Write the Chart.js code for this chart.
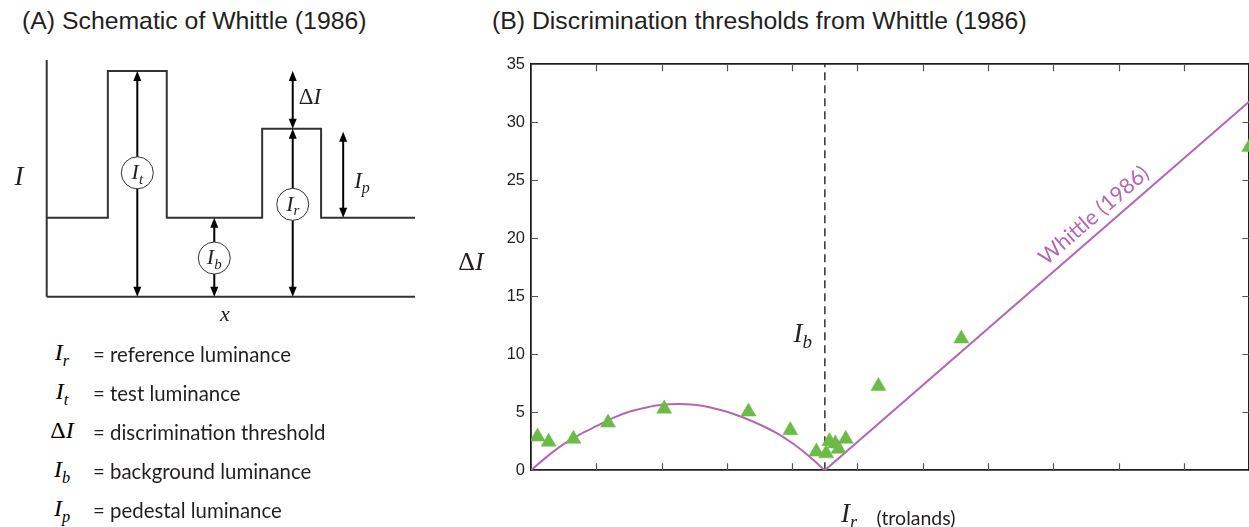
<!DOCTYPE html>
<html>
<head>
<meta charset="utf-8">
<title>Whittle (1986)</title>
<script src="https://cdn.jsdelivr.net/npm/chart.js"></script>
<style>
    body { margin: 0; padding: 0; width: 1249px; height: 527px; overflow: hidden; background: #fff; position: relative; }
    canvas { position: absolute; }
    .title { position: absolute; font-family: "Liberation Sans", Arial, sans-serif; font-size: 24.8px; color: #231f20; line-height: 1; white-space: nowrap; }
    .lab { position: absolute; transform: translate(-50%, -50%); white-space: nowrap; line-height: 1; color: #231f20; }
    .m { font-family: "Liberation Serif", serif; font-style: italic; }
    .m sub { font-size: 0.68em; vertical-align: -0.35em; line-height: 0; }
    .up { font-style: normal; }
    .sans { font-family: "Lato", sans-serif; }
    .row { position: absolute; left: 0; height: 30px; width: 430px; }
    .row .sym { position: absolute; left: 62px; top: 0; transform: translateX(-50%); font-size: 24px; }
    .row .txt { position: absolute; left: 93px; top: 3px; font-size: 20.4px; color: #231f20; }
</style>
</head>
<body>

<div class="title" style="left:22px; top:9px;">(A) Schematic of Whittle (1986)</div>
<div class="title" style="left:492px; top:9px;">(B) Discrimination thresholds from Whittle (1986)</div>

<canvas id="schematic" width="430" height="330" style="left:0; top:0;"></canvas>
<canvas id="thresholds" width="840" height="460" style="left:460px; top:40px;"></canvas>

<!-- axis labels -->
<div class="lab m" style="left:19px; top:176px; font-size:27px;">I</div>
<div class="lab m" style="left:225px; top:314px; font-size:22px;">x</div>
<div class="lab m" style="left:471px; top:262px; font-size:26px;"><span class="up">Δ</span>I</div>
<div class="lab m" style="left:849px; top:513px; font-size:27px;">I<sub>r</sub></div>
<div class="lab sans" style="left:916px; top:518px; font-size:19.5px;">(trolands)</div>

<div id="legend"></div>

<script>
    // ---------- (A) schematic ----------
    // positions along x (0..10) and luminance levels (0..3)
    var stepX = [0, 1.66, 1.66, 3.26, 3.26, 5.85, 5.85, 7.45, 7.45, 10];
    var stepY = [1, 1, 2.86, 2.86, 1, 1, 2.13, 2.13, 1, 1];

    // double headed arrows: x, from, to
    var arrowX    = [2.46, 4.55, 6.68, 6.68, 8.05];
    var arrowFrom = [0,    0,    0,    2.13, 1.0];
    var arrowTo   = [2.86, 1.0,  2.13, 2.86, 2.09];

    // circled labels on the arrows
    var circleX   = [2.46, 4.55, 6.68];
    var circleY   = [1.57, 0.49, 1.17];
    var circleSub = ['t', 'b', 'r'];

    // free labels: ΔI and I_p
    var freeLabels = [
        { x: 7.15, y: 2.54, base: 'ΔI', sub: '' },
        { x: 8.56, y: 1.47, base: 'I', sub: 'p' }
    ];

    // legend rows
    var legendSym = ['r', 't', 'Δ', 'b', 'p'];
    var legendTxt = ['= reference luminance', '= test luminance', '= discrimination threshold',
                     '= background luminance', '= pedestal luminance'];

    // ---------- (B) thresholds ----------
    var archX = [0, 0.25, 0.5, 0.75, 1.0, 1.25, 1.5, 1.75, 2.0, 2.25, 2.5, 2.75, 3.0, 3.25, 3.5, 3.75, 4.0, 4.25, 4.5];
    var archY = [0, 1.2, 2.25, 3.1, 3.8, 4.5, 5.05, 5.4, 5.65, 5.72, 5.65, 5.42, 5.05, 4.55, 3.95, 3.25, 2.35, 1.25, 0];
    var lineX = [4.5, 11];
    var lineY = [0, 31.8];

    var dataX = [0.10, 0.27, 0.65, 1.18, 2.04, 3.33, 3.97, 4.37, 4.52, 4.57, 4.66, 4.71, 4.82, 5.32, 6.59, 11.0];
    var dataY = [2.9, 2.45, 2.7, 4.1, 5.3, 5.05, 3.45, 1.6, 1.45, 2.5, 2.3, 1.85, 2.7, 7.25, 11.35, 27.85];

    var backgroundI = 4.5;
    var yMax = 35, yStep = 5, xMax = 11;

    var purple = '#b466b4';
    var green = '#6cbb46';
    var ink = '#231f20';

    function pts(xs, ys) {
        return xs.map(function (v, i) { return { x: v, y: ys[i] }; });
    }

    function drawMath(ctx, base, sub, cx, cy, size) {
        ctx.save();
        ctx.fillStyle = ink;
        ctx.textBaseline = 'alphabetic';
        var parts = [];
        if (base.charAt(0) === 'Δ') {
            parts.push({ t: 'Δ', f: size + 'px "Liberation Serif"', dy: 0 });
            base = base.slice(1);
        }
        parts.push({ t: base, f: 'italic ' + size + 'px "Liberation Serif"', dy: 0 });
        if (sub) parts.push({ t: sub, f: 'italic ' + Math.round(size * 0.7) + 'px "Liberation Serif"', dy: size * 0.22 });
        var w = 0;
        parts.forEach(function (p) { ctx.font = p.f; p.w = ctx.measureText(p.t).width; w += p.w; });
        var x0 = cx - w / 2;
        var baseY = cy + size * 0.33;
        parts.forEach(function (p) {
            ctx.font = p.f;
            ctx.fillText(p.t, x0, baseY + p.dy);
            x0 += p.w;
        });
        ctx.restore();
    }

    function arrowHead(ctx, px, py, dir) {
        // dir = -1 points up, 1 points down; tip sits on (px, py)
        var len = 10, half = 4;
        ctx.beginPath();
        ctx.moveTo(px, py);
        ctx.lineTo(px - half, py - dir * len);
        ctx.lineTo(px + half, py - dir * len);
        ctx.closePath();
        ctx.fill();
    }

    var schematicExtras = {
        id: 'schematicExtras',
        afterDatasetsDraw: function (chart) {
            var ctx = chart.ctx, xs = chart.scales.x, ys = chart.scales.y;
            ctx.save();
            ctx.fillStyle = '#000';
            for (var i = 0; i < arrowX.length; i++) {
                var px = xs.getPixelForValue(arrowX[i]);
                arrowHead(ctx, px, ys.getPixelForValue(arrowFrom[i]), 1);
                arrowHead(ctx, px, ys.getPixelForValue(arrowTo[i]), -1);
            }
            for (var j = 0; j < circleX.length; j++) {
                var cx = xs.getPixelForValue(circleX[j]), cy = ys.getPixelForValue(circleY[j]);
                ctx.beginPath();
                ctx.arc(cx, cy, 16, 0, Math.PI * 2);
                ctx.fillStyle = '#fff';
                ctx.fill();
                ctx.lineWidth = 1;
                ctx.strokeStyle = '#333';
                ctx.stroke();
                drawMath(ctx, 'I', circleSub[j], cx, cy - 1, 22);
            }
            freeLabels.forEach(function (l) {
                drawMath(ctx, l.base, l.sub, xs.getPixelForValue(l.x), ys.getPixelForValue(l.y), 23);
            });
            ctx.restore();
        }
    };

    var schematicSets = [
        { data: pts([0, 0], [0, 3]), borderColor: '#333', borderWidth: 2 },
        { data: pts([0, 10], [0, 0]), borderColor: '#333', borderWidth: 2 },
        { data: pts(stepX, stepY), borderColor: '#333', borderWidth: 2 }
    ];
    for (var a = 0; a < arrowX.length; a++) {
        schematicSets.push({
            data: pts([arrowX[a], arrowX[a]], [arrowFrom[a] + 0.06, arrowTo[a] - 0.06]),
            borderColor: '#000', borderWidth: 2
        });
    }
    schematicSets.forEach(function (d) {
        d.showLine = true; d.pointRadius = 0; d.tension = 0; d.clip = false;
    });

    new Chart(document.getElementById('schematic'), {
        type: 'scatter',
        data: { datasets: schematicSets },
        options: {
            responsive: false,
            animation: false,
            events: [],
            layout: { padding: { left: 46.7, right: 15, top: 60, bottom: 33.3 } },
            plugins: { legend: { display: false }, tooltip: { enabled: false } },
            scales: {
                x: { type: 'linear', min: 0, max: 10, display: false },
                y: { type: 'linear', min: 0, max: 3, display: false }
            }
        },
        plugins: [schematicExtras]
    });

    // legend below the schematic
    var legend = document.getElementById('legend');
    legendSym.forEach(function (s, i) {
        var row = document.createElement('div');
        row.className = 'row';
        row.style.top = (339 + i * 38.9) + 'px';
        var sym = s === 'Δ' ? '<span class="up">Δ</span>I' : 'I<sub>' + s + '</sub>';
        row.innerHTML = '<span class="sym m">' + sym + '</span><span class="txt sans">' + legendTxt[i] + '</span>';
        legend.appendChild(row);
    });

    // ---------- (B) chart ----------
    var inwardTicks = {
        id: 'inwardTicks',
        afterDraw: function (chart) {
            var ctx = chart.ctx, xs = chart.scales.x, ys = chart.scales.y, area = chart.chartArea;
            ctx.save();
            ctx.strokeStyle = '#555';
            ctx.lineWidth = 1.2;
            ctx.beginPath();
            for (var v = 1; v < xMax; v++) {
                var px = Math.round(xs.getPixelForValue(v)) + 0.5;
                ctx.moveTo(px, area.bottom); ctx.lineTo(px, area.bottom - 7);
                ctx.moveTo(px, area.top); ctx.lineTo(px, area.top + 7);
            }
            for (var t = yStep; t < yMax; t += yStep) {
                var py = Math.round(ys.getPixelForValue(t)) + 0.5;
                ctx.moveTo(area.left, py); ctx.lineTo(area.left + 7, py);
                ctx.moveTo(area.right, py); ctx.lineTo(area.right - 7, py);
            }
            ctx.stroke();

            // I_b marker label
            drawMath(ctx, 'I', 'b', xs.getPixelForValue(backgroundI) - 22, ys.getPixelForValue(11.8), 27);

            // rotated model label along the line
            var x0 = xs.getPixelForValue(lineX[0]), y0 = ys.getPixelForValue(lineY[0]);
            var x1 = xs.getPixelForValue(lineX[1]), y1 = ys.getPixelForValue(lineY[1]);
            var ang = Math.atan2(y1 - y0, x1 - x0);
            var lx = xs.getPixelForValue(8.78);
            var ly = y0 + (lx - x0) * (y1 - y0) / (x1 - x0);
            ctx.translate(lx, ly);
            ctx.rotate(ang);
            ctx.fillStyle = purple;
            ctx.font = '21.5px "Lato"';
            ctx.textAlign = 'center';
            ctx.textBaseline = 'alphabetic';
            ctx.fillText('Whittle (1986)', 0, -9);
            ctx.restore();
        }
    };

    function hiddenAxis(pos, max, horizontal) {
        return {
            type: 'linear', position: pos, min: 0, max: max,
            ticks: { display: false },
            grid: { display: false, drawTicks: false },
            border: { display: true, color: ink, width: 1.8 },
            afterFit: function (s) { if (horizontal) s.height = 0; else s.width = 0; }
        };
    }

    var xAxis = hiddenAxis('bottom', xMax, true);
    var x2Axis = hiddenAxis('top', xMax, true);
    var y2Axis = hiddenAxis('right', yMax, false);
    var yAxis = {
        type: 'linear', position: 'left', min: 0, max: yMax,
        ticks: { stepSize: yStep, padding: 6, color: ink, font: { family: '"Liberation Sans"', size: 16.5 } },
        grid: { display: false, drawTicks: false },
        border: { display: true, color: ink, width: 1.8 },
        afterFit: function (s) { s.width = 71; }
    };
    x2Axis.axis = 'x';
    y2Axis.axis = 'y';

    new Chart(document.getElementById('thresholds'), {
        type: 'scatter',
        data: {
            datasets: [
                {
                    label: 'data',
                    data: pts(dataX, dataY),
                    pointStyle: 'triangle',
                    pointRadius: 8.7,
                    backgroundColor: green,
                    borderColor: green,
                    borderWidth: 0.5
                },
                {
                    label: 'Whittle arch',
                    data: pts(archX, archY),
                    showLine: true,
                    pointRadius: 0,
                    borderColor: purple,
                    borderWidth: 2,
                    cubicInterpolationMode: 'monotone'
                },
                {
                    label: 'Whittle line',
                    data: pts(lineX, lineY),
                    showLine: true,
                    pointRadius: 0,
                    borderColor: purple,
                    borderWidth: 2
                },
                {
                    label: 'Ib',
                    data: pts([backgroundI, backgroundI], [0, yMax]),
                    showLine: true,
                    pointRadius: 0,
                    borderColor: '#222',
                    borderWidth: 1.4,
                    borderDash: [8, 5]
                }
            ]
        },
        options: {
            responsive: false,
            animation: false,
            events: [],
            layout: { padding: { left: 0, right: 50.7, top: 24.3, bottom: 29.7 } },
            plugins: { legend: { display: false }, tooltip: { enabled: false } },
            scales: { x: xAxis, x2: x2Axis, y: yAxis, y2: y2Axis }
        },
        plugins: [inwardTicks]
    });
</script>
</body>
</html>
